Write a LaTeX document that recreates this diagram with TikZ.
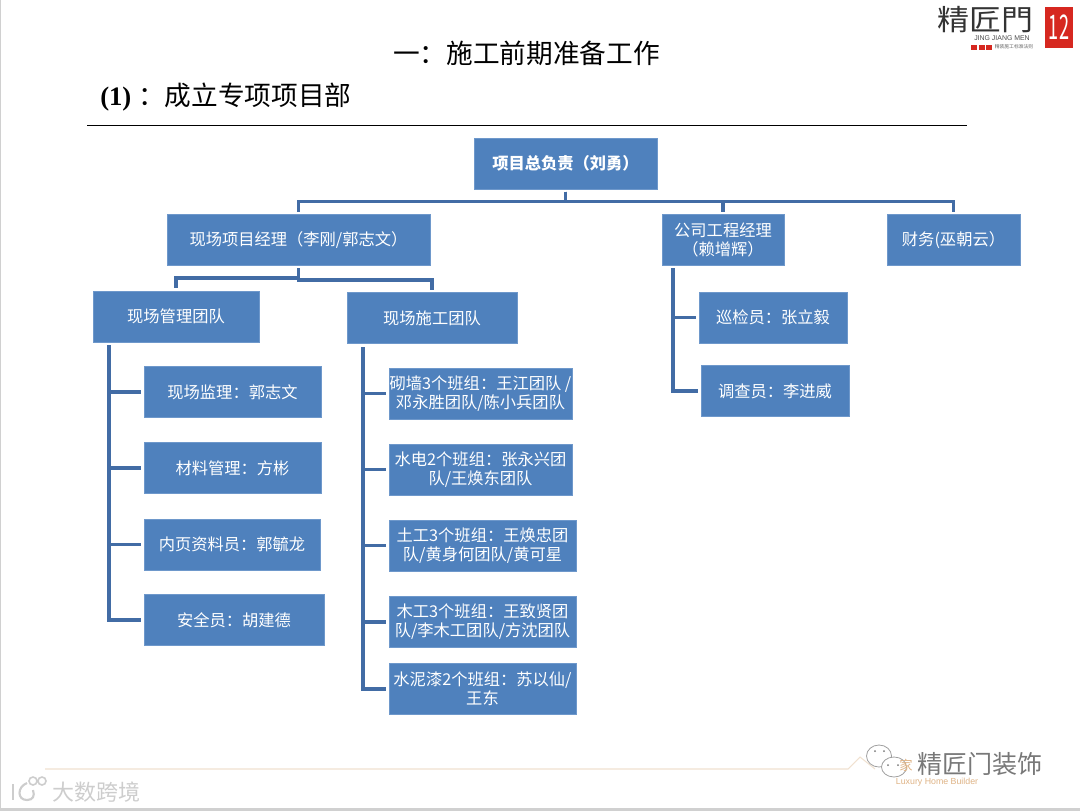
\documentclass[tikz,border=0pt]{standalone}
\usepackage{fontspec}
\setmainfont{Noto Sans CJK SC}
\newfontfamily\serifnum{Liberation Serif}
\newfontfamily\latinsans{Liberation Sans}
\usepackage{xcolor}
\definecolor{BoxB}{RGB}{79,129,189}
\definecolor{EdgeB}{RGB}{110,152,203}
\definecolor{ConnB}{RGB}{66,108,165}
\definecolor{LogoR}{RGB}{214,40,32}
\definecolor{Tan}{RGB}{240,225,208}
\definecolor{TanT}{RGB}{222,178,132}
\definecolor{MarkG}{RGB}{120,120,120}
\definecolor{MarkL}{RGB}{205,205,205}
\definecolor{StripG}{RGB}{208,208,208}
% full width punctuation
\newcommand{\qcolon}{^^^^ff1a}
\newcommand{\qopen}{^^^^ff08}
\newcommand{\qclose}{^^^^ff09}

\begin{document}
\begin{tikzpicture}[
  x=0.75pt, y=-0.75pt,
  box/.style={draw=EdgeB, line width=0.3pt, fill=BoxB, minimum width=#1*0.75pt,
              minimum height=38pt, inner sep=0pt, align=center, text=white,
              font=\fontsize{12.2}{14.4}\selectfont},
  conn/.style={draw=ConnB, line width=2.4pt, shorten <=2pt, shorten >=2pt},
  spine/.style={draw=ConnB, line width=2.4pt, shorten >=2pt},
  heading/.style={anchor=west, inner sep=0pt, font=\fontsize{20}{24}\selectfont}
]
\useasboundingbox (0,0) rectangle (1080,811);

% Page edges
\fill[StripG] (0,808) rectangle (1080,811);
\fill[StripG] (0,0) rectangle (1,811);

% Headings
\node[heading] (title) at (393,53) {一\qcolon{}施工前期准备工作};
\node[heading] (subtitle) at (100,97) {{\serifnum\bfseries (1)}\hspace{5pt}\qcolon{}成立专项项目部};
\coordinate (ruleL) at (87,125);
\coordinate (ruleR) at (967,125);
\draw[black, line width=0.6pt] (ruleL) -- (ruleR);

% Top right logo
\node[inner sep=0pt, text=black!80, yscale=0.9, font=\fontsize{24}{24}\selectfont] (logo) at (985,20) {精匠門};
\node[inner sep=0pt, text=black!70, font=\latinsans\fontsize{5.2}{6}\selectfont] (logoen) at (1002,38) {JING JIANG MEN};
\node[inner sep=0pt, text=black!60, font=\fontsize{3.6}{4}\selectfont] (logosub) at (1014,47) {精装施工标准法则};
\foreach \x in {971,978.5,986}
  \fill[LogoR] (\x,44.5) rectangle ++(6,5);
\node[fill=LogoR, text=white, minimum width=21pt, minimum height=31pt, inner sep=0pt,
      font=\fontsize{17}{17}\selectfont] (logonum) at (1059,27.5) {\scalebox{0.8}[1.5]{12}};

% Top levels
\node[box=183] (root) at (565.5,163.5) {\textbf{项目总负责\qopen{}刘勇\qclose{}}};
\node[box=263] (site) at (298.5,240) {现场项目经理\qopen{}李刚/郭志文\qclose{}};
\node[box=122] (eng)  at (723,240) {公司工程经理\\\qopen{}赖增辉\qclose{}};
\node[box=133] (fin)  at (953.5,240) {财务(巫朝云\qclose{}};
\node[box=166] (mgmt) at (176,316.5) {现场管理团队};
\node[box=170] (crew) at (432,318) {现场施工团队};

% Management team
\node[box=177] (sup) at (232.5,392) {现场监理\qcolon{}郭志文};
\node[box=177] (mat) at (232.5,468) {材料管理\qcolon{}方彬};
\node[box=176] (doc) at (232,544.5) {内页资料员\qcolon{}郭毓龙};
\node[box=180] (saf) at (234,620) {安全员\qcolon{}胡建德};

% Construction crews
\node[box=183] (brick) at (480.5,393.5) {砌墙3个班组\qcolon{}王江团队 /\\邓永胜团队/陈小兵团队};
\node[box=183] (elec)  at (480.5,469.5) {水电2个班组\qcolon{}张永兴团\\队/王焕东团队};
\node[box=187] (soil)  at (482.5,545.5) {土工3个班组\qcolon{}王焕忠团\\队/黄身何团队/黄可星};
\node[box=187] (wood)  at (482.5,622) {木工3个班组\qcolon{}王致贤团\\队/李木工团队/方沈团队};
\node[box=187] (paint) at (482.5,689) {水泥漆2个班组\qcolon{}苏以仙/\\王东};

% Company engineering
\node[box=148] (insp) at (773,317.5) {巡检员\qcolon{}张立毅};
\node[box=148] (surv) at (775,391) {调查员\qcolon{}李进威};

% Connectors
\coordinate (busTop) at (0,201.5);
\coordinate (busL)   at (0,278);
\coordinate (busR)   at (0,280);
\coordinate (mgmtS)  at (109,345);
\coordinate (crewS)  at (363,347);
\coordinate (engS)   at (673,268);

\foreach \n in {site,eng,fin}
  \draw[conn] (root.south) -- (root.south |- busTop) -| (\n.north);
\draw[conn] (site.south) -- (site.south |- busL) -| (mgmt.north);
\draw[conn] (site.south) -- (site.south |- busR) -| (crew.north);
\foreach \n in {sup,mat,doc,saf}
  \draw[spine] (mgmtS) |- (\n.west);
\foreach \n in {brick,elec,soil,wood,paint}
  \draw[spine] (crewS) |- (\n.west);
\foreach \n in {insp,surv}
  \draw[spine] (engS) |- (\n.west);

% Footer marks
\draw[Tan, line width=0.8pt] (45,769) -- (848,769) -- (860,757) -- (875,769);
\node[inner sep=0pt, text=TanT, font=\latinsans\fontsize{6.6}{8}\selectfont] (builder) at (937,782) {Luxury Home Builder};
\fill[white, draw=MarkG!70, line width=0.6pt] (879,756) ellipse (12.5 and 11);
\fill[white, draw=MarkG!70, line width=0.6pt] (894,767) ellipse (12.5 and 10);
\foreach \x/\y in {875/751,884/751,888/765,898/765}
  \fill[MarkG] (\x,\y) circle (1);
\node[inner sep=0pt, text=MarkG, font=\fontsize{18.8}{20}\selectfont] (brand) at (980,764) {精匠门装饰};
\node[inner sep=0pt, text=TanT, font=\fontsize{10}{10}\selectfont] (brandfirst) at (906,765) {家};
\node[inner sep=0pt, text=MarkL, font=\fontsize{16.5}{18}\selectfont] (bigdata) at (96,792) {大数跨境};
\draw[MarkL, line width=1.6pt] (13,784) -- (13,800);
\draw[MarkL, line width=1.6pt] (27,783) .. controls (17,787) and (17,800) .. (27,800) .. controls (33,800) and (35,796) .. (33,790);
\draw[MarkL, line width=1.2pt] (33,781) circle (4) (42,781) circle (4);
\end{tikzpicture}
\end{document}
